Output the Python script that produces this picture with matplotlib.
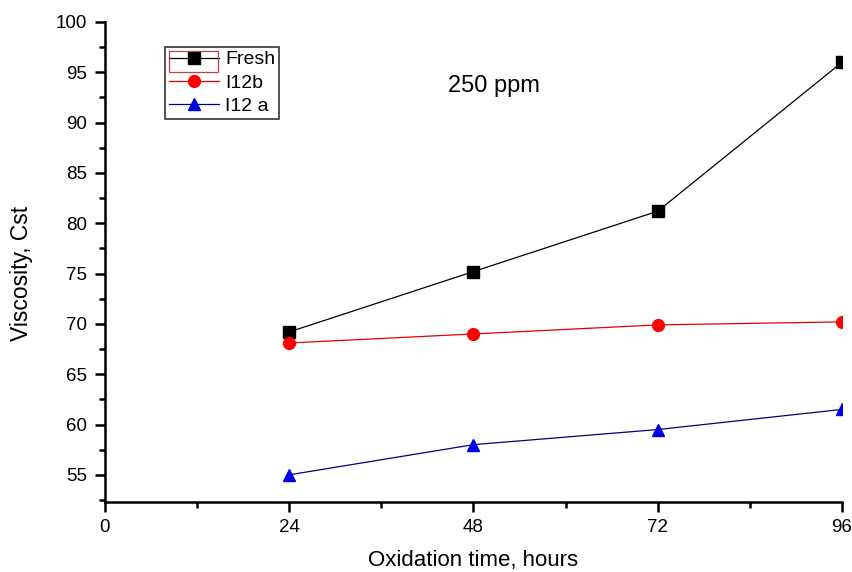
import matplotlib
matplotlib.use("Agg")
import matplotlib.pyplot as plt
from matplotlib.ticker import MultipleLocator
from matplotlib.patches import Rectangle

plt.rcParams['font.family'] = ['Liberation Sans', 'DejaVu Sans']

hours = [24, 48, 72, 96]
fresh = [69.2, 75.2, 81.2, 96.0]
i12b = [68.1, 69.0, 69.9, 70.2]
i12a = [55.0, 58.0, 59.5, 61.5]
x_ticks = [0, 24, 48, 72, 96]
y_ticks = [55, 60, 65, 70, 75, 80, 85, 90, 95, 100]

W, H = 853, 572
fig = plt.figure(figsize=(W / 100, H / 100), dpi=100)
ax = fig.add_axes([105 / W, 1 - 502 / H, 737 / W, 480 / H])

ax.plot(hours, fresh, color='black', lw=0.9, marker='s', ms=8.5, label='Fresh')
ax.plot(hours, i12b, color='#e00000', lw=0.9, marker='o', ms=8.5,
        markerfacecolor='red', markeredgecolor='red', label='I12b')
ax.plot(hours, i12a, color='#000080', lw=0.9, marker='^', ms=9,
        markerfacecolor='#0000e0', markeredgecolor='#0000e0', label='I12 a')

ax.set_xlim(0, 96)
ax.set_ylim(52.3, 100)
ax.set_xticks(x_ticks)
ax.set_yticks(y_ticks)
ax.xaxis.set_minor_locator(MultipleLocator(12))
ax.yaxis.set_minor_locator(MultipleLocator(2.5))
for s in ['top', 'right']:
    ax.spines[s].set_visible(False)
for s in ['left', 'bottom']:
    ax.spines[s].set_linewidth(1.8)
ax.tick_params(which='major', direction='out', length=7, width=1.8, labelsize=13.5)
ax.tick_params(axis='x', which='major', pad=5)
ax.tick_params(axis='y', which='major', pad=6)
ax.tick_params(which='minor', direction='out', length=4.5, width=1.8)

ax.set_xlabel('Oxidation time, hours', fontsize=16)
ax.set_ylabel('Viscosity, Cst', fontsize=16.5)
ax.xaxis.set_label_coords(0.5, -(550 - 502) / 480)
ax.yaxis.set_label_coords(-(105 - 33) / 737, (502 - 273) / 480)

ax.text((494 - 105) / 737, (502 - 92) / 480, '250 ppm', transform=ax.transAxes,
        fontsize=17, ha='center', va='baseline')

leg = ax.legend(loc='upper left', bbox_to_anchor=((165 - 105) / 737, (502 - 47) / 480),
                frameon=True, fancybox=False, edgecolor='black', fontsize=14,
                handlelength=2.6, handletextpad=0.3, labelspacing=0.28,
                borderpad=0.2, borderaxespad=0)
leg.get_frame().set_linewidth(1.2)

fig.patches.append(Rectangle((169 / W, 1 - 72 / H), 49 / W, 21 / H, transform=fig.transFigure,
                             fill=False, edgecolor='#c04040', lw=0.9))

fig.savefig('out.png', dpi=100)
